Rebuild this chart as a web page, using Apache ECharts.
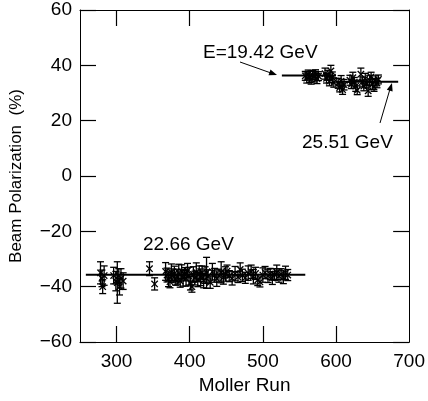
<!DOCTYPE html>
<html><head><meta charset="utf-8">
<script src="https://cdn.jsdelivr.net/npm/echarts@6/dist/echarts.min.js"></script>
<style>html,body{margin:0;padding:0;background:#fff}#c{width:428px;height:401px}</style>
</head><body><div id="c"></div>
<script>
// ---- data ----
const lowRun = [278,280,281,283, 296,299,301,303,304,306,309, 345,352,
  367,369,371,373,375,377,379,381,383,385,
  387,389,391,393,395,397,399,401,403,405,
  407,409,411,413,415,417,419,421,423,
  425,428,431,434,437,440,443,446,449,
  451,454,458,462,466,469,472,476,480,484,
  487,490,493,496,500,503,507,510,513,516,
  519,522,525,528,531,534];
const lowPol = [-35,-37,-40,-36, -36,-38,-38.5,-36,-40,-37,-38, -33.5,-39,
  -34.5,-35.8,-37.2,-38.2,-34.8,-36.0,-35.2,-37.5,-36.4,-35.0,
  -38.0,-34.6,-36.8,-35.5,-37.0,-34.2,-36.2,-38.8,-40.0,-35.6,
  -36.9,-34.8,-37.4,-35.3,-36.6,-34.9,-37.8,-35.8,-35.0,
  -36.3,-38.4,-34.6,-35.9,-37.1,-36.0,-34.8,-36.7,-35.4,
  -34.4,-36.2,-37.0,-35.3,-36.5,-33.8,-35.9,-36.8,-35.1,-34.6,
  -36.4,-35.2,-37.6,-38.3,-35.8,-34.9,-36.1,-35.4,-36.9,-35.6,
  -34.8,-36.2,-35.5,-36.6,-35.0,-35.8];
const lowErr = [4,3,2.5,3.5, 3,3.5,7.5,2.5,3,3.5,3, 2.5,2.2,
  3.2,2.5,2.8,2.2,3.0,2.4,2.6,2.0,2.7,3.1,
  2.2,2.5,3.0,2.4,2.8,2.6,3.2,2.4,2.0,2.8,
  2.5,3.4,2.6,2.8,3.0,2.4,2.6,3.0,5.6,
  2.4,2.2,3.0,2.5,2.8,2.3,3.8,2.4,2.6,
  2.2,2.0,2.4,2.6,2.0,2.4,2.2,2.0,2.6,2.4,
  2.6,2.2,2.0,1.8,2.6,2.2,2.4,2.0,2.3,2.1,
  2.6,2.2,2.0,2.3,2.4,2.0];
const upRun = [558,560,562,564,566,568,570,572,574,576,
  585,587,589,591,593,595,597,
  603,605,607,609,611,
  619,621,623,625,627,629,
  634,636,638,640,642,644,646,648,650,652,654,656,658];
const upPol = [36.2,35.4,36.8,35.8,34.9,36.5,35.9,36.9,35.2,36.1,
  37.0,35.3,36.4,34.2,38.0,35.7,33.8,
  33.5,32.0,34.3,31.2,33.0,
  34.6,33.2,35.5,33.9,32.5,31.0,
  36.8,34.0,32.5,35.2,33.4,30.8,34.6,35.8,33.1,32.2,34.4,33.6,34.9];
const upErr = [1.6,1.8,1.5,2.0,1.7,1.6,1.9,1.5,1.8,1.6,
  2.0,1.7,1.8,1.6,2.0,1.9,1.7,
  1.8,1.6,2.0,1.7,1.9,
  1.8,1.6,2.0,1.7,1.9,1.6,
  2.2,1.8,1.7,1.9,1.6,2.0,1.8,1.7,1.9,1.6,1.8,1.7,1.6];
// fitted average lines
const fitLowRun = [258, 558], fitLowPol = [-35.7, -35.7];
const fit1942Run = [526, 600], fit1942Pol = [36.3, 36.3];
const fit2551Run = [600, 685], fit2551Pol = [34.1, 34.1];
const xTicks = [300, 400, 500, 600];
const xLabels = [300, 400, 500, 600, 700];
const annE1 = 'E=19.42 GeV', annE2 = '25.51 GeV', annE3 = '22.66 GeV';

// ---- chart ----
const FONT = '"Liberation Sans", Arial, sans-serif';
const zip3 = (a,b,c) => a.map((v,i)=>[v,b[i],c[i]]);
const zip2 = (a,b) => a.map((v,i)=>[v,b[i]]);
function renderErr(params, api){
  const x=api.value(0), y=api.value(1), e=api.value(2);
  const c=api.coord([x,y]), t=api.coord([x,y+e]), b=api.coord([x,y-e]);
  const h=3.5, s=3.2, st={stroke:'#000',lineWidth:1.3};
  return {type:'group', children:[
    {type:'line',shape:{x1:c[0],y1:t[1],x2:c[0],y2:b[1]},style:st},
    {type:'line',shape:{x1:c[0]-h,y1:t[1],x2:c[0]+h,y2:t[1]},style:st},
    {type:'line',shape:{x1:c[0]-h,y1:b[1],x2:c[0]+h,y2:b[1]},style:st},
    {type:'line',shape:{x1:c[0]-s,y1:c[1]-s,x2:c[0]+s,y2:c[1]+s},style:st},
    {type:'line',shape:{x1:c[0]-s,y1:c[1]+s,x2:c[0]+s,y2:c[1]-s},style:st}
  ]};
}
const axisCommon = {
  type:'value', splitLine:{show:false},
  axisLine:{show:true,onZero:false,lineStyle:{color:'#000',width:1}},
  axisTick:{show:true,inside:true,length:16,lineStyle:{color:'#000',width:1.2}}
};
const yFmt = v => v<0 ? '\u2212'+(-v) : String(v);
const option = {
  animation:false,
  grid:{left:79,right:17,top:10,bottom:59},
  xAxis:[
    Object.assign({}, axisCommon, {min:250,max:700,position:'bottom',
      axisTick:Object.assign({},axisCommon.axisTick,{customValues:xTicks}),
      axisLabel:{customValues:xLabels,color:'#000',fontSize:19,fontFamily:FONT,margin:10},
      name:'Moller Run',nameLocation:'middle',nameGap:33,
      nameTextStyle:{color:'#000',fontSize:19,fontFamily:FONT}}),
    Object.assign({}, axisCommon, {min:250,max:700,position:'top',
      axisTick:Object.assign({},axisCommon.axisTick,{customValues:xTicks}),
      axisLabel:{show:false}})
  ],
  yAxis:[
    Object.assign({}, axisCommon, {min:-60,max:60,interval:20,position:'left',
      axisLabel:{formatter:yFmt,color:'#000',fontSize:19,fontFamily:FONT,margin:8},
      name:'Beam Polarization  (%)',nameLocation:'middle',nameGap:55,
      nameTextStyle:{color:'#000',fontSize:17,fontFamily:FONT}}),
    Object.assign({}, axisCommon, {min:-60,max:60,interval:20,position:'right',
      axisLabel:{show:false}})
  ],
  series:[
    {type:'line',data:zip2(fitLowRun,fitLowPol),symbol:'none',lineStyle:{color:'#000',width:2}},
    {type:'line',data:zip2(fit1942Run,fit1942Pol),symbol:'none',lineStyle:{color:'#000',width:2}},
    {type:'line',data:zip2(fit2551Run,fit2551Pol),symbol:'none',lineStyle:{color:'#000',width:2}},
    {type:'custom',renderItem:renderErr,data:zip3(lowRun,lowPol,lowErr),encode:{x:0,y:1}},
    {type:'custom',renderItem:renderErr,data:zip3(upRun,upPol,upErr),encode:{x:0,y:1}}
  ],
  graphic:[
    {type:'text',left:203,top:43,style:{text:annE1,font:'19px '+FONT,fill:'#000'}},
    {type:'text',left:302,top:133,style:{text:annE2,font:'19px '+FONT,fill:'#000'}},
    {type:'text',left:143,top:235,style:{text:annE3,font:'19px '+FONT,fill:'#000'}},
    {type:'line',shape:{x1:240,y1:62,x2:271,y2:73},style:{stroke:'#000',lineWidth:1}},
    {type:'polygon',shape:{points:[[277,75],[268.5,75.2],[270.5,69.6]]},style:{fill:'#000'}},
    {type:'line',shape:{x1:380,y1:123,x2:390,y2:89},style:{stroke:'#000',lineWidth:1}},
    {type:'polygon',shape:{points:[[392,83],[392.6,91.6],[386.8,89.8]]},style:{fill:'#000'}}
  ]
};
echarts.init(document.getElementById('c'),null,{renderer:'canvas'}).setOption(option);
</script></body></html>
